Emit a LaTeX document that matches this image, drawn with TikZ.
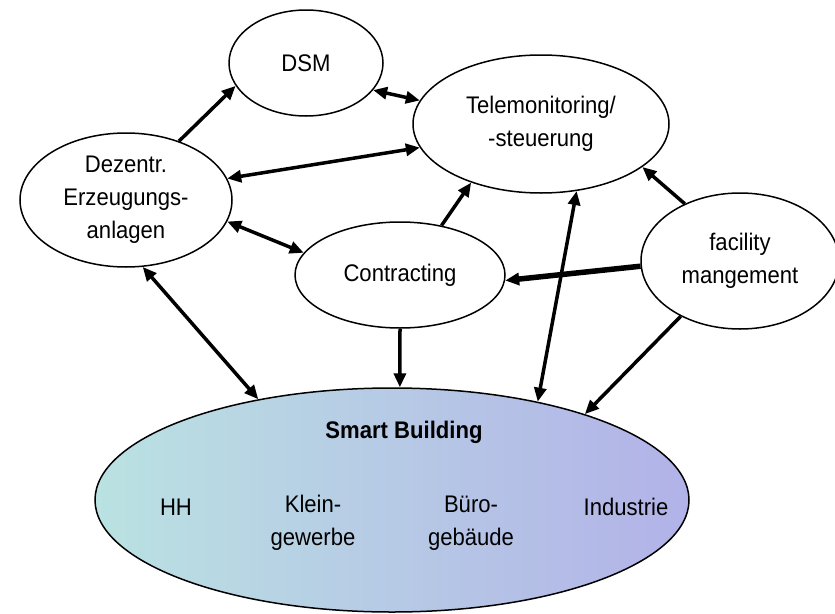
\documentclass[tikz,border=0pt]{standalone}
\usepackage{fontspec}
\setmainfont{Liberation Sans}[FakeStretch=0.92]
\usetikzlibrary{arrows.meta}
\usetikzlibrary{shapes.geometric}
\definecolor{sbleft}{RGB}{186,226,226}
\definecolor{sbright}{RGB}{178,178,232}

\begin{document}
\begin{tikzpicture} [x=1pt,y=-1pt,line width=3.5pt,
    >={Triangle[length=14pt,width=12pt]},
    blob/.style={ellipse,draw,line width=1.5pt,inner sep=0pt,align=center,
      font=\fontsize{24}{33}\selectfont},
    lbl/.style={inner sep=0pt,align=center,font=\fontsize{24}{33}\selectfont}]
  \useasboundingbox (0,0) rectangle (835,613);

  \node[blob,minimum width=154pt,minimum height=106pt] (dsm) at (306,63) {DSM};
  \node[blob,minimum width=256pt,minimum height=138pt] (tele) at (541,124) {Telemonitoring/\\-steuerung};
  \node[blob,minimum width=212pt,minimum height=134pt] (dez) at (126,200) {Dezentr.\\Erzeugungs-\\anlagen};
  \node[blob,minimum width=210pt,minimum height=106pt] (con) at (400,275) {Contracting};
  \node[blob,minimum width=198pt,minimum height=136pt] (fac) at (740,261) {facility\\mangement};
  \node[blob,minimum width=594pt,minimum height=224pt,left color=sbleft,right color=sbright] (sb) at (392,500) {};

  \node[lbl,font=\fontsize{24}{33}\selectfont\bfseries] (sbtitle) at (404,432) {Smart Building};
  \node[lbl] (hh) at (176,507) {HH};
  \node[lbl] (klein) at (313,523) {Klein-\\gewerbe};
  \node[lbl] (buero) at (471,523) {Büro-\\gebäude};
  \node[lbl] (ind) at (626,507) {Industrie};

  \path
    (dez.48) edge[->] (dsm.198)
    (dsm.338) edge[<->] (tele.169)
    (dez.12) edge[<->] (tele.191)
    (dez.348) edge[<->] (con.167)
    (dez.284) edge[<->] (sb.143)
    (con.50) edge[->] (tele.220)
    (con.south) edge[->] (sb.86)
    (fac.183) edge[->,line width=5.5pt] (con.357)
    (fac.134) edge[->] (tele.337)
    (tele.298) edge[<->] (sb.34)
    (fac.223) edge[->] (sb.24);
\end{tikzpicture}
\end{document}
